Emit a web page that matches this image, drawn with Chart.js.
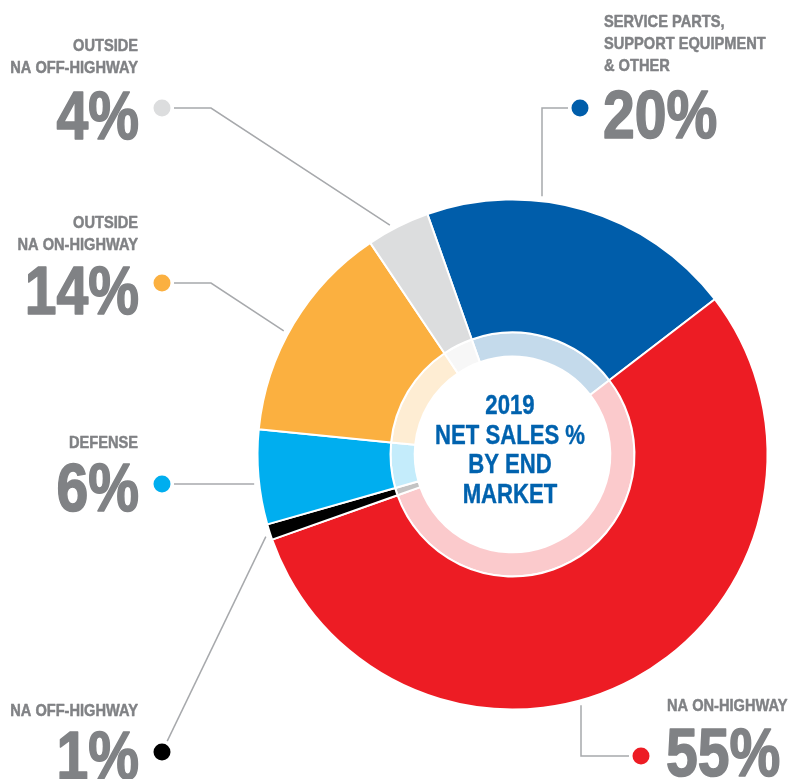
<!DOCTYPE html>
<html lang="en">
<head>
<meta charset="UTF-8">
<title>2019 Net Sales % by End Market</title>
<script src="https://cdn.jsdelivr.net/npm/chart.js"></script>
<style>
  body { margin: 0; background: #fff; }
  #wrap { position: relative; width: 789px; height: 779px; }
</style>
</head>
<body>
<div id="wrap"><canvas id="salesChart"></canvas></div>
<script>
// share of 2019 net sales by end market, in percent, clockwise from the top
const markets = ['Service Parts, Support Equipment & Other', 'NA On-Highway', 'NA Off-Highway',
                 'Defense', 'Outside NA On-Highway', 'Outside NA Off-Highway'];
const shares = [20, 55, 1, 6, 14, 4];
const labelLines = [
    ['SERVICE PARTS,', 'SUPPORT EQUIPMENT', '& OTHER'],
    ['NA ON-HIGHWAY'],
    ['NA OFF-HIGHWAY'],
    ['DEFENSE'],
    ['OUTSIDE', 'NA ON-HIGHWAY'],
    ['OUTSIDE', 'NA OFF-HIGHWAY']
];
const centerTitle = ['2019', 'NET SALES %', 'BY END', 'MARKET'];

const colors = ['#005DAA', '#ED1C24', '#000000', '#00AEEF', '#FBB040', '#DCDDDE'];
const textGray = '#808285';
const lineGray = '#A7A9AC';
const FONT = "'Liberation Sans', Arial, sans-serif";

// where each callout sits (layout only)
const callouts = [
    { align: 'left',  textX: 604, firstBase: 27,  bigBase: 138, dot: [580, 108], leader: 'vertical', elbowX: 542 },
    { align: 'left',  textX: 667, firstBase: 711, bigBase: 776, dot: [641, 756], leader: 'vertical', elbowX: 581 },
    { align: 'right', textX: 138, firstBase: 716, bigBase: 779, dot: [162, 752], leader: 'direct', at: 0.3 },
    { align: 'right', textX: 138, firstBase: 448, bigBase: 511, dot: [162, 484], leader: 'horizontal' },
    { align: 'right', textX: 138, firstBase: 228, bigBase: 314, dot: [162, 283], leader: 'elbow', elbowX: 211, at: 0.45 },
    { align: 'right', textX: 138, firstBase: 51,  bigBase: 139, dot: [162, 108], leader: 'elbow', elbowX: 211, at: 0.4 }
];

function tint(hex, a) {
    const n = parseInt(hex.slice(1), 16);
    return `rgba(${n >> 16}, ${(n >> 8) & 255}, ${n & 255}, ${a})`;
}

// no condensed face is installed, so squeeze a bold face and thicken it a little
function narrowText(ctx, text, x, y, squeeze, weight) {
    ctx.save();
    ctx.translate(x, y);
    ctx.scale(squeeze, 1);
    ctx.fillText(text, 0, 0);
    if (weight) {
        ctx.strokeStyle = ctx.fillStyle;
        ctx.lineWidth = weight;
        ctx.lineJoin = 'round';
        ctx.strokeText(text, 0, 0);
    }
    ctx.restore();
}

const calloutPlugin = {
    id: 'callouts',
    afterDatasetsDraw(chart) {
        const ctx = chart.ctx;
        const arcs = chart.getDatasetMeta(0).data;
        ctx.save();
        callouts.forEach((c, i) => {
            const arc = arcs[i];
            const cx = arc.x, cy = arc.y, r = arc.outerRadius + 5;
            const [dx, dy] = c.dot;
            let pts;
            if (c.leader === 'vertical') {
                const h = Math.sqrt(r * r - (c.elbowX - cx) ** 2);
                const ay = dy < cy ? cy - h : cy + h;
                pts = [[c.elbowX, dy], [c.elbowX, ay]];
            } else if (c.leader === 'horizontal') {
                const w = Math.sqrt(r * r - (dy - cy) ** 2);
                pts = [[cx - w, dy]];
            } else {
                const a = arc.startAngle + (arc.endAngle - arc.startAngle) * c.at;
                const anchor = [cx + r * Math.cos(a), cy + r * Math.sin(a)];
                pts = c.leader === 'elbow' ? [[c.elbowX, dy], anchor] : [anchor];
            }
            // leader line, starting just off the dot
            const ux = pts[0][0] - dx, uy = pts[0][1] - dy;
            const len = Math.hypot(ux, uy);
            ctx.beginPath();
            ctx.moveTo(dx + ux / len * 12, dy + uy / len * 12);
            pts.forEach(p => ctx.lineTo(p[0], p[1]));
            ctx.strokeStyle = lineGray;
            ctx.lineWidth = 1.5;
            ctx.stroke();

            ctx.beginPath();
            ctx.arc(dx, dy, 8.5, 0, Math.PI * 2);
            ctx.fillStyle = colors[i];
            ctx.fill();

            ctx.fillStyle = textGray;
            ctx.textAlign = c.align;
            ctx.textBaseline = 'alphabetic';
            ctx.font = 'bold 17px ' + FONT;
            labelLines[i].forEach((t, k) => narrowText(ctx, t, c.textX, c.firstBase + k * 22, 0.86, 0.5));
            ctx.font = 'bold 68px ' + FONT;
            narrowText(ctx, shares[i] + '%', c.textX + (c.align === 'right' ? 1 : -1), c.bigBase, 0.84, 1.6);
        });

        // centre title
        const arc0 = arcs[0];
        ctx.fillStyle = '#0062AE';
        ctx.textAlign = 'center';
        ctx.font = 'bold 27px ' + FONT;
        centerTitle.forEach((t, k) => narrowText(ctx, t, arc0.x - 2.5, arc0.y - 40.5 + k * 29.7, 0.82, 0.4));
        ctx.restore();
    }
};

const ctx = document.getElementById('salesChart').getContext('2d');
new Chart(ctx, {
    type: 'doughnut',
    data: {
        labels: markets,
        datasets: [{
            data: shares,
            backgroundColor: colors,
            borderColor: '#ffffff',
            borderWidth: 2,
            weight: 132
        }, {
            data: shares,
            backgroundColor: colors.map(c => tint(c, 0.23)),
            borderColor: '#ffffff',
            borderWidth: 2,
            weight: 24
        }]
    },
    options: {
        responsive: true,
        maintainAspectRatio: false,
        animation: false,
        rotation: -19.5,
        radius: 255,
        cutout: 98,
        layout: { padding: { left: 256, right: 20, top: 150, bottom: 20 } },
        plugins: {
            legend: { display: false },
            tooltip: { enabled: false }
        }
    },
    plugins: [calloutPlugin]
});
</script>
</body>
</html>
